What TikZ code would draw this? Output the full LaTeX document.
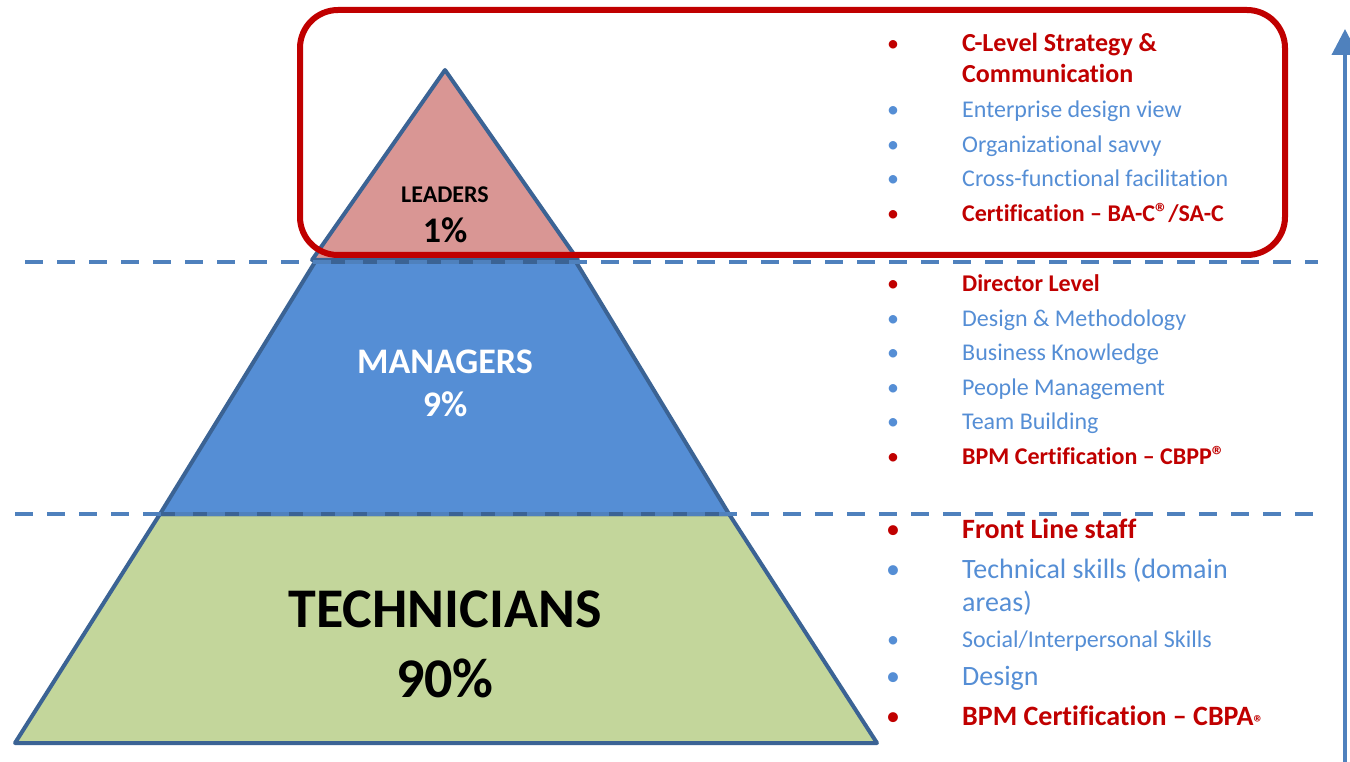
\documentclass[tikz,border=0pt]{standalone}
\usepackage{fontspec}
\setmainfont{Carlito}[Ligatures=NoCommon]
\usetikzlibrary{arrows.meta}

\definecolor{redtxt}{HTML}{C00000}
\definecolor{bluetxt}{HTML}{558ED5}
\definecolor{dashblue}{HTML}{4F81BD}
\definecolor{edgeblue}{HTML}{3B6394}
\definecolor{leadfill}{HTML}{D99694}
\definecolor{mgrfill}{HTML}{558ED5}
\definecolor{techfill}{HTML}{C3D69B}

\newcommand{\fs}[1]{\fontsize{#1}{#1}\selectfont}
\newcommand{\regmark}{{\fs{26}®}}

\tikzset{
  level/.style={draw=edgeblue, line width=4pt, line join=round},
  divider/.style={dashblue, line width=4pt, dash pattern=on 18pt off 14pt},
  skill/.style={anchor=base west, inner sep=0pt, text=bluetxt, font=\fs{24}},
  keyskill/.style={anchor=base west, inner sep=0pt, text=redtxt, font=\fs{24}\bfseries},
  bluedot/.style={anchor=base, text=bluetxt, font=\fs{24}},
  reddot/.style={anchor=base, text=redtxt, font=\fs{24}},
}

\begin{document}
\begin{tikzpicture}[x=1pt, y=-1pt]
\useasboundingbox (0,0) rectangle (1350,762);

% pyramid
\fill[techfill] (160,514) -- (729,514) -- (877,743) -- (15,743) -- cycle;
\fill[mgrfill] (315,262) -- (576,262) -- (729,514) -- (160,514) -- cycle;
\fill[leadfill] (445,70) -- (578,260) -- (312,260) -- cycle;
\draw[level] (160,514) -- (729,514) -- (877,743) -- (15,743) -- cycle;
\draw[level] (315,262) -- (576,262) -- (729,514) -- (160,514) -- cycle;
\draw[level] (445,70) -- (578,260) -- (312,260) -- cycle;

% dividers
\coordinate (d1a) at (25,262);
\coordinate (d1b) at (1318,262);
\coordinate (d2a) at (15,514);
\coordinate (d2b) at (1318,514);
\draw[divider] (d1a) -- (d1b);
\draw[divider] (d2a) -- (d2b);

% leaders frame
\draw[redtxt, line width=6pt, rounded corners=38pt] (300,10) rectangle (1285,255);

% arrow
\coordinate (arrowfoot) at (1345,770);
\coordinate (arrowtip) at (1345,29);
\draw[dashblue, line width=4pt, -{Triangle[width=26pt, length=26pt]}] (arrowfoot) -- (arrowtip);

% pyramid labels
\node(lead) [anchor=base, font=\fs{24}\bfseries] at (445,203) {LEADERS};
\node(leadpc) [anchor=base, font=\fs{36}\bfseries] at (445,243) {1\%};
\node(mgr) [anchor=base, text=white, font=\fs{36}\bfseries] at (445,373) {MANAGERS};
\node(mgrpc) [anchor=base, text=white, font=\fs{36}\bfseries] at (445,416) {9\%};
\node(tech) [anchor=base, font=\fs{56}\bfseries] at (445,627) {TECHNICIANS};
\node(techpc) [anchor=base, font=\fs{56}\bfseries] at (445,697) {90\%};

% leaders skills
\node(l1d) [reddot] at (893,52) {•};
\node(l1) [keyskill, font=\fs{26}\bfseries] at (962,52) {C-Level Strategy \&};
\node(l1b) [keyskill, font=\fs{26}\bfseries] at (962,83) {Communication};
\node(l2d) [bluedot] at (893,118) {•};
\node(l2) [skill] at (962,118) {Enterprise design view};
\node(l3d) [bluedot] at (893,153) {•};
\node(l3) [skill] at (962,153) {Organizational savvy};
\node(l4d) [bluedot] at (893,187) {•};
\node(l4) [skill] at (962,187) {Cross-functional facilitation};
\node(l5d) [reddot] at (893,222) {•};
\node(l5) [keyskill] at (962,222) {Certification – BA-C\regmark/SA-C};

% managers skills
\node(m1d) [reddot] at (893,291) {•};
\node(m1) [keyskill] at (962,291) {Director Level};
\node(m2d) [bluedot] at (893,326) {•};
\node(m2) [skill] at (962,326) {Design \& Methodology};
\node(m3d) [bluedot] at (893,360) {•};
\node(m3) [skill] at (962,360) {Business Knowledge};
\node(m4d) [bluedot] at (893,395) {•};
\node(m4) [skill] at (962,395) {People Management};
\node(m5d) [bluedot] at (893,429) {•};
\node(m5) [skill] at (962,429) {Team Building};
\node(m6d) [reddot] at (893,464) {•};
\node(m6) [keyskill] at (962,464) {BPM Certification – CBPP\regmark};

% technicians skills
\node(t1d) [reddot, font=\fs{28}] at (893,538) {•};
\node(t1) [keyskill, font=\fs{28}\bfseries] at (962,538) {Front Line staff};
\node(t2d) [bluedot, font=\fs{28}] at (893,578) {•};
\node(t2) [skill, font=\fs{28}] at (962,578) {Technical skills (domain};
\node(t2b) [skill, font=\fs{28}] at (962,611) {areas)};
\node(t3d) [bluedot] at (893,647) {•};
\node(t3) [skill] at (962,647) {Social/Interpersonal Skills};
\node(t4d) [bluedot, font=\fs{28}] at (893,685) {•};
\node(t4) [skill, font=\fs{28}] at (962,685) {Design};
\node(t5d) [reddot, font=\fs{28}] at (893,725) {•};
\node(t5) [keyskill, font=\fs{28}\bfseries] at (962,725) {BPM Certification – CBPA\raisebox{-4pt}{\fs{20}®}};
\end{tikzpicture}
\end{document}
